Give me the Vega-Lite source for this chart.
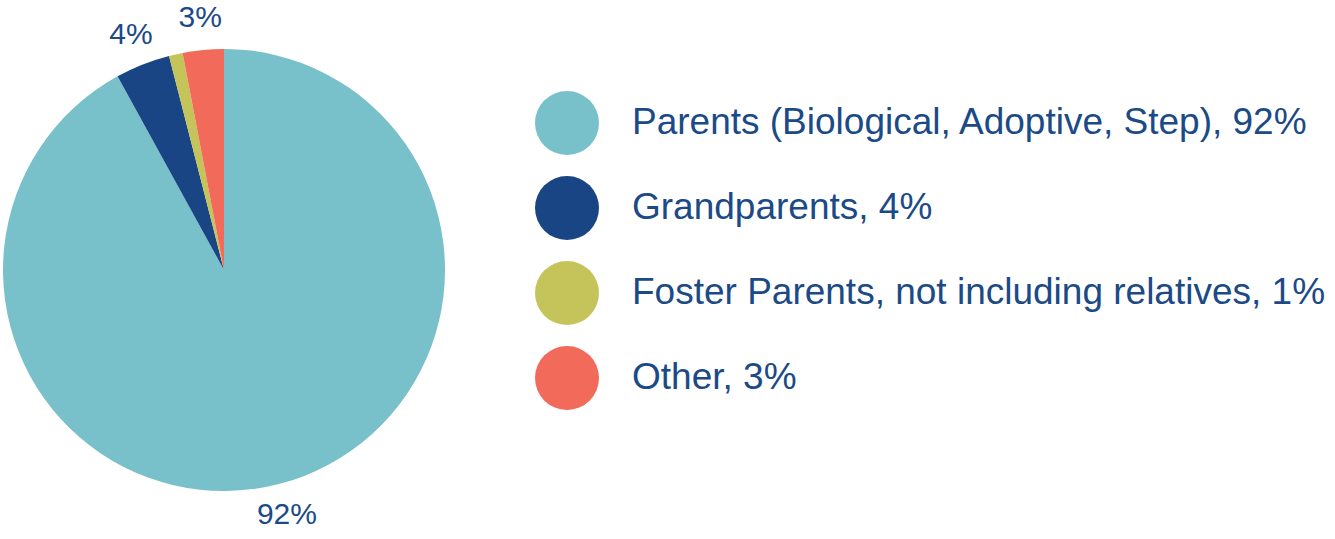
{
  "$schema": "https://vega.github.io/schema/vega-lite/v6.json",
  "width": 448,
  "height": 540,
  "autosize": {"type": "none"},
  "padding": {"left": 0, "top": 0, "right": 887, "bottom": 0},
  "background": "white",
  "data": {"values": [
    {"cat": "Parents (Biological, Adoptive, Step), 92%", "v": 92, "ord": 1, "lbl": "92%"},
    {"cat": "Grandparents, 4%", "v": 4, "ord": 2, "lbl": "4%"},
    {"cat": "Foster Parents, not including relatives, 1%", "v": 1, "ord": 3, "lbl": ""},
    {"cat": "Other, 3%", "v": 3, "ord": 4, "lbl": "3%"}
  ]},
  "encoding": {
    "theta": {"field": "v", "type": "quantitative", "stack": true},
    "order": {"field": "ord", "type": "quantitative"}
  },
  "layer": [
    {
      "mark": {"type": "arc", "outerRadius": 221},
      "encoding": {
        "color": {
          "field": "cat", "type": "nominal",
          "sort": ["Parents (Biological, Adoptive, Step), 92%", "Grandparents, 4%", "Foster Parents, not including relatives, 1%", "Other, 3%"],
          "scale": {
            "domain": ["Parents (Biological, Adoptive, Step), 92%", "Grandparents, 4%", "Foster Parents, not including relatives, 1%", "Other, 3%"],
            "range": ["#78c0ca", "#1a4585", "#c5c45a", "#f26a5a"]
          },
          "legend": {
            "title": null, "orient": "none", "legendX": 535, "legendY": 91,
            "symbolType": "circle", "symbolSize": 4096, "symbolStrokeWidth": 0,
            "labelFontSize": 37, "labelFont": "Liberation Sans", "labelColor": "#1b4a87",
            "labelLimit": 0, "rowPadding": 21, "labelOffset": 33, "padding": 0, "symbolOpacity": 1
          }
        }
      }
    },
    {
      "mark": {"type": "text", "radius": 253, "fontSize": 30, "font": "Liberation Sans", "color": "#1b4a87", "baseline": "middle", "align": "center"},
      "encoding": {"text": {"field": "lbl", "type": "nominal"}}
    }
  ],
  "config": {"view": {"stroke": null}}
}
